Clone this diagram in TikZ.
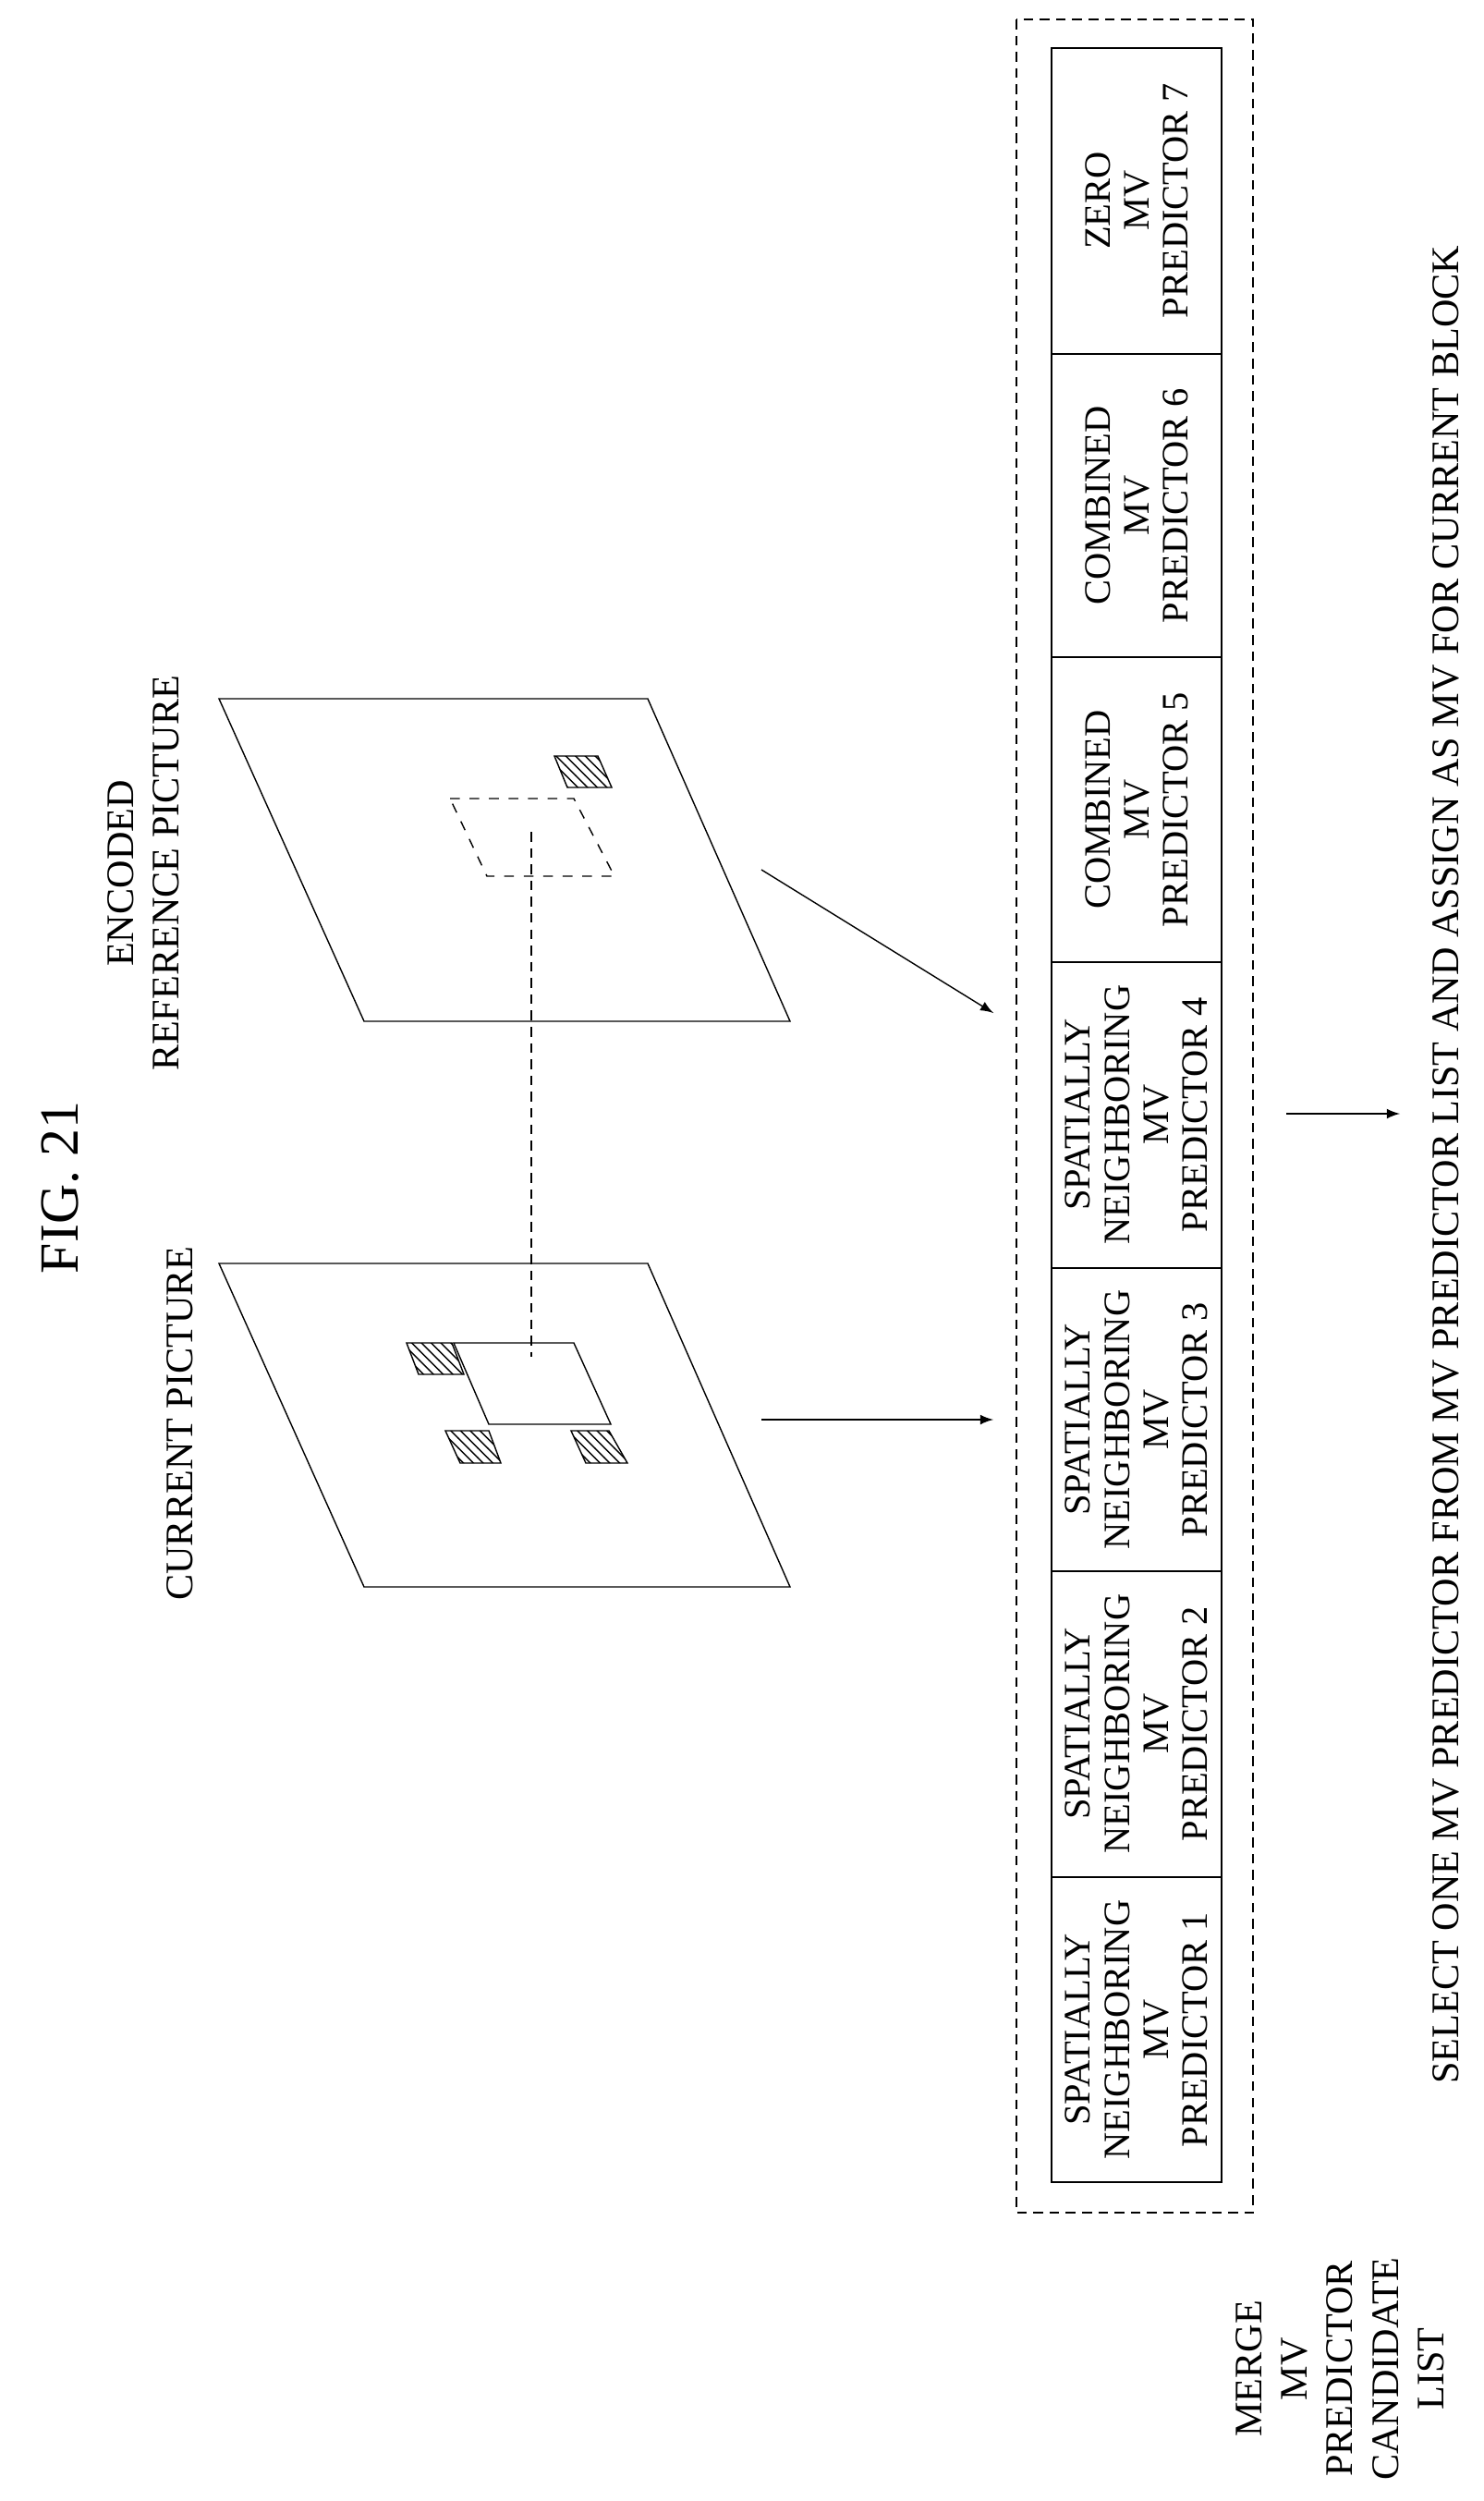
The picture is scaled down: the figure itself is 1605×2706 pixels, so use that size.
\documentclass[tikz,border=0pt]{standalone}
\usepackage{fontspec}
\setmainfont{Liberation Serif}
\usetikzlibrary{patterns}
\begin{document}
\begin{tikzpicture}[>=latex, x=0.01cm, y=-0.01cm,
    plane/.style={thin},
    hatch/.style={thin, pattern=north west lines},
    label/.style={rotate=90, font=\fontsize{12}{14}\selectfont, align=center},
    cell/.style={rotate=90, font=\fontsize{11.5}{12}\selectfont, align=center}]
    \useasboundingbox (0,0) rectangle (1605,2706);

    % 1. 标题和标签
    \node[label, font=\fontsize{17}{20}\selectfont] (title) at (65,1285) {FIG. 21};
    \node[label] (curlabel) at (195,1540) {CURRENT PICTURE};
    \node[label] (reflabel) at (155,945) {ENCODED\\REFERENCE PICTURE};

    % 2. 当前图像 (平行四边形)
    \draw[plane] (237,1367) -- (701,1367) -- (855,1717) -- (394,1717) -- cycle;
    \draw[plane] (491,1453) -- (621,1453) -- (661,1541) -- (529,1541) -- cycle;
    \draw[hatch] (440,1453) -- (489,1453) -- (502,1487) -- (453,1487) -- cycle;
    \draw[hatch] (482,1548) -- (529,1548) -- (542,1583) -- (498,1583) -- cycle;
    \draw[hatch] (618,1548) -- (659,1548) -- (679,1583) -- (634,1583) -- cycle;

    % 3. 参考图像
    \draw[plane] (237,756) -- (701,756) -- (855,1105) -- (394,1105) -- cycle;
    \draw[plane, dashed] (487,864) -- (621,864) -- (665,948) -- (527,948) -- cycle;
    \draw[hatch] (600,818) -- (647,818) -- (662,852) -- (614,852) -- cycle;
    \coordinate (refblk) at (575,900);
    \coordinate (curblk) at (575,1468);
    \draw[densely dashed] (refblk) -- (curblk);

    % 4. 候选列表
    \draw[densely dashed] (1100,21) rectangle (1356,2394);
    \draw (1138,52) rectangle (1322,2361);
    \foreach \y in {383,711,1041,1372,1700,2031}
        \draw (1138,\y) -- (1322,\y);
    \node[cell] (p7) at (1230,217) {ZERO\\MV\\PREDICTOR 7};
    \node[cell] (p6) at (1230,547) {COMBINED\\MV\\PREDICTOR 6};
    \node[cell] (p5) at (1230,876) {COMBINED\\MV\\PREDICTOR 5};
    \foreach \n/\y in {4/1206, 3/1536, 2/1865, 1/2196}
        \node[cell] (p\n) at (1230,\y) {SPATIALLY\\NEIGHBORING\\MV\\PREDICTOR \n};
    \node[label] (merge) at (1450,2563) {MERGE\\MV\\PREDICTOR\\CANDIDATE\\LIST};

    % 5. 箭头
    \coordinate (a1) at (824,941);  \coordinate (b1) at (1075,1096);
    \coordinate (a2) at (824,1536); \coordinate (b2) at (1075,1536);
    \coordinate (a3) at (1392,1205); \coordinate (b3) at (1515,1205);
    \draw[->] (a1) -- (b1);
    \draw[->] (a2) -- (b2);
    \draw[->] (a3) -- (b3);

    \node[label] (select) at (1565,1260) {SELECT ONE MV PREDICTOR FROM MV PREDICTOR LIST AND ASSIGN AS MV FOR CURRENT BLOCK};
\end{tikzpicture}
\end{document}
